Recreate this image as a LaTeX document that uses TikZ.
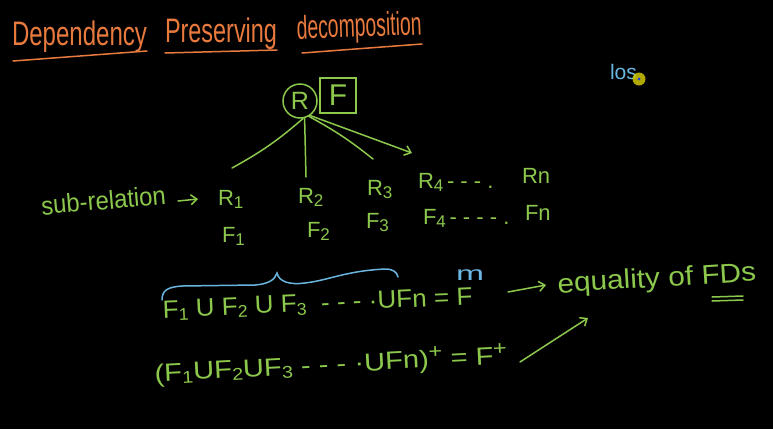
\documentclass[tikz,border=0pt]{standalone}
\usepackage{fontspec}
\usepackage{graphicx}
\setmainfont{Liberation Sans}
\usetikzlibrary{arrows.meta}
\definecolor{chalkorange}{HTML}{E87A3E}
\definecolor{chalkgreen}{HTML}{8CC84B}
\definecolor{chalkblue}{HTML}{6BB6E0}
\newcommand\hw[3]{\resizebox{#1pt}{\height}{\fontsize{#2}{#2}\selectfont #3}}
\newcommand\subs[1]{{\fontsize{17}{17}\selectfont\raisebox{-3pt}{#1}}}
\newcommand\sups[1]{{\fontsize{20}{20}\selectfont\raisebox{9pt}{#1}}}
\begin{document}
\begin{tikzpicture}[x=1pt,y=-1pt,
  txt/.style={anchor=base west, inner sep=0pt, outer sep=0pt},
  gtxt/.style={txt, text=chalkgreen},
  otxt/.style={txt, text=chalkorange},
  btxt/.style={txt, text=chalkblue},
  lbl/.style={gtxt, font=\fontsize{22}{22}\selectfont},
  gline/.style={draw=chalkgreen, line width=1.5pt, line cap=round},
  oline/.style={draw=chalkorange, line width=1.5pt, line cap=round},
  bline/.style={draw=chalkblue, line width=1.5pt, line cap=round},
  garrow/.style={gline, -{Straight Barb[length=6pt,width=10pt]}},
]
\fill[black] (0,0) rectangle (773,429);
\useasboundingbox (0,0) rectangle (773,429);

% title
\node[otxt] (t1) at (12,45) {\hw{135}{34}{Dependency}};
\node[otxt] (t2) at (165,42) {\hw{112}{34}{Preserving}};
\node[otxt, rotate=2] (t3) at (297,39) {\hw{125}{33}{decomposition}};
\draw[oline] (13,61) -- (147,51);
\draw[oline] (165,53) -- (277,50);
\draw[oline] (302,53) -- (422,44);

% los + cursor
\node[btxt] (los) at (610,79) {\hw{27}{21}{los}};
\fill[yellow!60!olive, opacity=0.85] (639,79) circle (6.5);
\fill[blue!70!chalkblue] (639,79) circle (1.5);

% relation R and F
\node[circle, draw=chalkgreen, line width=1.5pt, minimum size=34pt, inner sep=0pt,
      text=chalkgreen, font=\fontsize{25}{25}\selectfont] (R) at (300,101) {R};
\node[draw=chalkgreen, line width=1.5pt, minimum width=36pt, minimum height=35pt, inner sep=0pt,
      text=chalkgreen, font=\fontsize{30}{30}\selectfont] (FB) at (338,95.5) {F};

% sub-relations
\node[lbl] (R1) at (218,205) {R\subs{1}};
\node[lbl] (R2) at (298,203) {R\subs{2}};
\node[lbl] (R3) at (367,195) {R\subs{3}};
\node[lbl] (R4) at (418,188) {R\subs{4}\,- - - .};
\node[lbl] (Rn) at (522,183) {Rn};
\node[lbl] (F1) at (222,242) {F\subs{1}};
\node[lbl] (F2) at (307,237) {F\subs{2}};
\node[lbl] (F3) at (366,228) {F\subs{3}};
\node[lbl] (F4) at (423,224) {F\subs{4}\,- - - - .};
\node[lbl] (Fn) at (525,220) {Fn};

\coordinate (e1) at (232,168);
\coordinate (e2) at (306,177);
\coordinate (e3) at (373,159);
\coordinate (e4) at (412,153);
\draw[gline] (R.-80) to[bend left=6] (e1);
\draw[gline] (R.-75) -- (e2);
\draw[gline] (R.-60) to[bend left=5] (e3);
\draw[garrow] (R.-55) -- (e4);

\node[gtxt, rotate=5] (sub) at (42,215) {\hw{125}{26}{sub-relation}};
\coordinate (s1) at (178,201);
\coordinate (s2) at (198,199);
\draw[garrow] (s1) -- (s2);

% brace
\draw[bline] (162,300) .. controls (162,290) and (168,287) .. (182,286) -- (255,285)
  .. controls (268,284) and (275,280) .. (277,273)
  .. controls (279,282) and (290,285) .. (305,283)
  .. controls (330,280) and (345,271) .. (385,269)
  .. controls (393,269) and (397,272) .. (398,277);

% union lines
\node[gtxt, rotate=2.5] (L1) at (163,318) {\hw{310}{25}{F\subs{1} U F\subs{2} U F\subs{3} \ - - - ·UFn = F}};
\node[btxt] (mm) at (456,280) {\hw{28}{20}{m}};
\node[gtxt, rotate=3] (L2) at (155,382) {\hw{353}{25}{(F\subs{1}UF\subs{2}UF\subs{3} - - - ·UFn)\sups{+} = F\sups{+}}};

\node[gtxt, rotate=3.5] (eq) at (558,293) {\hw{199}{27}{equality of FDs}};
\draw[gline] (712,297) -- (743,296);
\draw[gline] (712,301) -- (743,300);

\coordinate (a1) at (508,292);
\coordinate (a2) at (546,285);
\draw[garrow] (a1) -- (a2);
\coordinate (b1) at (520,362);
\coordinate (b2) at (588,318);
\draw[garrow] (b1) -- (b2);
\end{tikzpicture}
\end{document}
